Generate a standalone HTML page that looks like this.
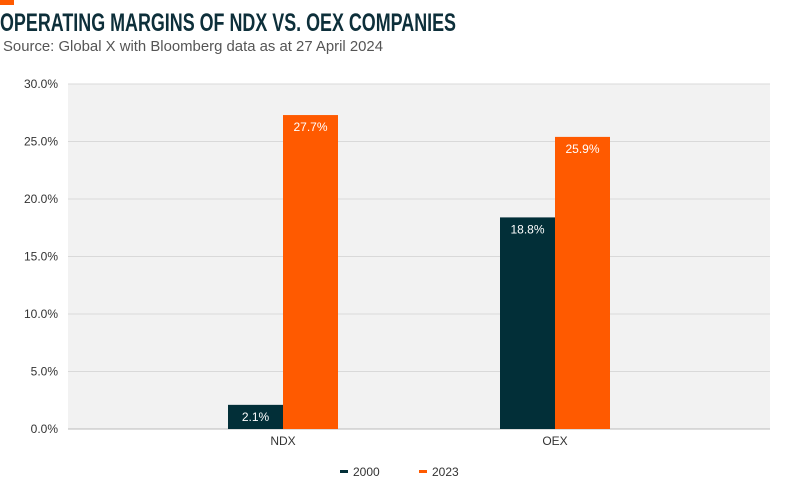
<!DOCTYPE html>
<html><head><meta charset="utf-8"><style>
body{margin:0;background:#fff;}
svg{display:block;font-family:"Liberation Sans",sans-serif;}
</style></head><body>
<svg id="chart" width="800" height="480">
<rect x="0" y="0" width="14" height="5" fill="#ff5a00"/>
<text x="0" y="31" font-size="25" font-weight="bold" fill="#0d2f3a" textLength="456" lengthAdjust="spacingAndGlyphs">OPERATING MARGINS OF NDX VS. OEX COMPANIES</text>
<text x="3" y="51" font-size="15" fill="#555" textLength="380" lengthAdjust="spacingAndGlyphs">Source: Global X with Bloomberg data as at 27 April 2024</text>
<rect x="68" y="84" width="702" height="345" fill="#f2f2f2"/>
<g id="grid"></g><g id="bars"></g>
<g>
<rect x="340" y="470" width="8" height="3" fill="#022f38"/>
<text x="353" y="476" font-size="12" fill="#333">2000</text>
<rect x="419" y="470" width="8" height="3" fill="#ff5a00"/>
<text x="432" y="476" font-size="12" fill="#333">2023</text>
</g>
</svg>
<script>
const categories=["NDX","OEX"];
const values2000=[2.1,18.4];
const values2023=[27.3,25.4];
const labels2000=["2.1%","18.8%"];
const labels2023=["27.7%","25.9%"];
const yTicks=[0,5,10,15,20,25,30];
const NS="http://www.w3.org/2000/svg";
const y0=429,y1=84,yMax=30;
const y=v=>y0-(v/yMax)*(y0-y1);
const catX=i=>419+272*(i-(categories.length-1)/2);
const grid=document.getElementById('grid'),bars=document.getElementById('bars');
function mk(tag,attrs,parent){const e=document.createElementNS(NS,tag);for(const k in attrs)e.setAttribute(k,attrs[k]);parent.appendChild(e);return e;}
yTicks.forEach(t=>{
 const l=mk('line',{x1:68,x2:770,y1:y(t),y2:y(t),stroke:t===0?'#bbb':'#d9d9d9','stroke-width':1},grid);
 
 
 const tx=mk('text',{x:58,y:y(t)+4,'font-size':12,fill:'#333','text-anchor':'end'},grid);
 tx.textContent=t.toFixed(1)+'%';
 
 
});
const bw=55;
categories.forEach((c,i)=>{
 const cx=catX(i);
 [[values2000,labels2000,'#022f38',-bw,'2000'],[values2023,labels2023,'#ff5a00',0,'2023']].forEach(([vals,labs,col,off,yr])=>{
  const r=mk('rect',{x:cx+off,y:y(vals[i]),width:bw,height:y0-y(vals[i]),fill:col},bars);
  
  
  const t=mk('text',{x:cx+off+bw/2,y:y(vals[i])+16,'font-size':12,fill:'#fff','text-anchor':'middle'},bars);
  t.textContent=labs[i];
  
  
 });
 const t=mk('text',{x:cx,y:445,'font-size':12,fill:'#333','text-anchor':'middle'},bars);
 t.textContent=c;
 
 
});
</script>
</body></html>
